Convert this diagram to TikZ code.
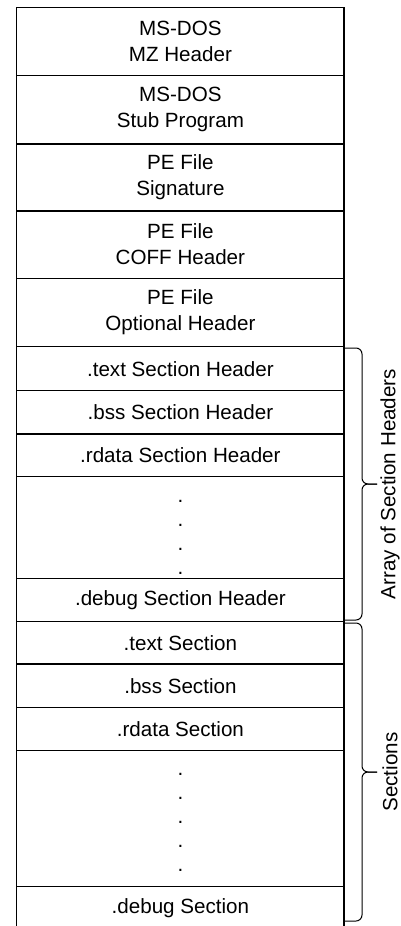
\documentclass[tikz,border=0pt]{standalone}
\usepackage{fontspec}
\setmainfont{Liberation Sans}
\begin{document}
\begin{tikzpicture}[x=1pt,y=-1pt]
\tikzset{every node/.style={font=\fontsize{20.6}{26}\selectfont, align=center, inner sep=0pt},
  cell/.style={draw, line width=1.3pt, minimum width=327.3pt},
  big/.style={cell, minimum height=68pt},
  small/.style={cell, minimum height=43pt},
  dots/.style={font=\fontsize{20.6}{24}\selectfont},
  curly/.style={line width=1pt, rounded corners=6pt},
  side/.style={rotate=90}}
\useasboundingbox (0,0) rectangle (401,926);
% headers
\node [big] (mz) at (180.4,41.5) {MS-DOS\\MZ Header};
\node [big] (stub) at (180.4,109.6) {MS-DOS\\Stub Program};
\node [big, minimum height=67pt] (sig) at (180.4,177.5) {PE File\\Signature};
\node [big, minimum height=67.3pt] (coff) at (180.4,244.6) {PE File\\COFF Header};
\node [big, minimum height=68.4pt] (opt) at (180.4,312.5) {PE File\\Optional Header};
% section table
\node [small, minimum height=44pt] (texthdr) at (180.4,368.7) {.text Section Header};
\node [small, minimum height=43.3pt] (bsshdr) at (180.4,412.3) {.bss Section Header};
\node [small, minimum height=42.7pt] (rdatahdr) at (180.4,455.3) {.rdata Section Header};
\node [cell, minimum height=102pt, label={[dots, yshift=-10pt]center:{.\\.\\.\\.}}] (hdrdots) at (180.4,527.7) {};
\node [small] (debughdr) at (180.4,600.2) {.debug Section Header};
% sections
\node [small, minimum height=42.3pt] (textsec) at (180.4,642.8) {.text Section};
\node [small, minimum height=43.7pt] (bsssec) at (180.4,685.8) {.bss Section};
\node [small] (rdatasec) at (180.4,729.2) {.rdata Section};
\node [cell, minimum height=136pt, label={[dots, yshift=-4pt]center:{.\\.\\.\\.\\.}}] (secdots) at (180.4,818.7) {};
\node [small] (debugsec) at (180.4,908.3) {.debug Section};
% braces
\coordinate (hdrtop) at (345,348);
\coordinate (hdrbot) at (345,620);
\coordinate (hdrtip) at (377,484);
\draw [curly] (hdrtop) -- (362,348) -- (362,484) -- (hdrtip);
\draw [curly] (hdrbot) -- (362,620) -- (362,484) -- (hdrtip);
\node [side] (hdrlabel) at (390,484) {Array of Section Headers};
\coordinate (sectop) at (345,623);
\coordinate (secbot) at (345,921);
\coordinate (sectip) at (377,772);
\draw [curly] (sectop) -- (362,623) -- (362,772) -- (sectip);
\draw [curly] (secbot) -- (362,921) -- (362,772) -- (sectip);
\node [side] (seclabel) at (390,772) {Sections};
\end{tikzpicture}
\end{document}
